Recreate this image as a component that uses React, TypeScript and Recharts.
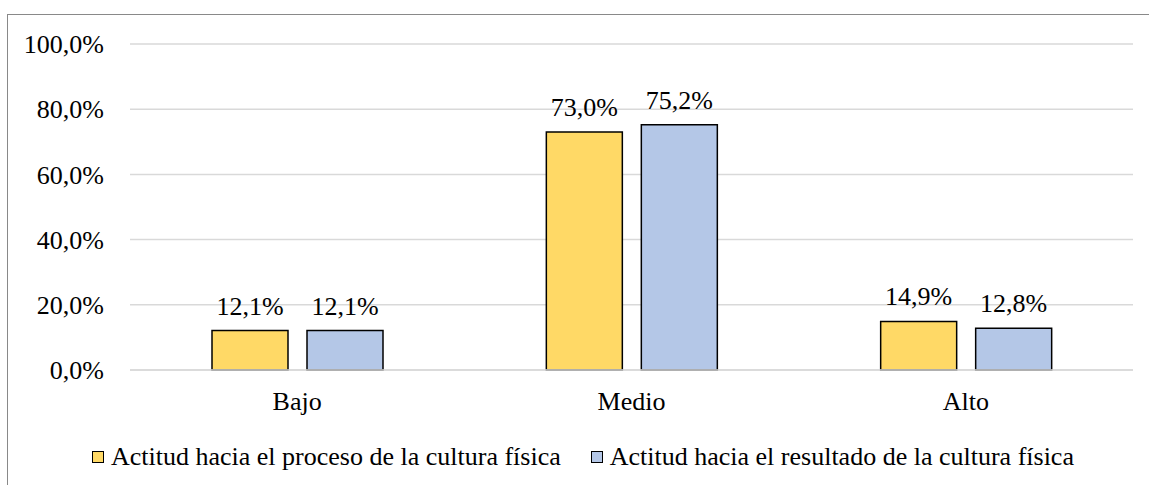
import { BarChart, Bar, XAxis, YAxis, CartesianGrid, Legend, LabelList } from "recharts";

const categories = ["Bajo", "Medio", "Alto"];
const procesoValues = [12.1, 73.0, 14.9];
const resultadoValues = [12.1, 75.2, 12.8];
const yTicks = [0, 20, 40, 60, 80, 100];

const seriesNames = {
    proceso: "Actitud hacia el proceso de la cultura física",
    resultado: "Actitud hacia el resultado de la cultura física",
};

const colors = {
    proceso: "#FFD966",
    resultado: "#B4C7E7",
};

// serif faces are not available here, the browser falls back anyway
const FONT = "Liberation Serif, Tinos, DejaVu Serif, serif";
const FS = 26;

const chartData = categories.map((name, i) => ({
    name,
    proceso: procesoValues[i],
    resultado: resultadoValues[i],
}));

const pct = (v: any) => `${Number(v).toFixed(1).replace(".", ",")}%`;

function LegendContent() {
    const items = [
        { key: "proceso", label: seriesNames.proceso, color: colors.proceso },
        { key: "resultado", label: seriesNames.resultado, color: colors.resultado },
    ];
    return (
        <div style={{ display: "flex", alignItems: "center", fontFamily: FONT, fontSize: FS, lineHeight: "26px", color: "#000" }}>
            {items.map((it, idx) => (
                <div key={it.key} style={{ display: "flex", alignItems: "center", marginLeft: idx === 0 ? 0 : 30 }}>
                    <span
                        style={{
                            display: "inline-block",
                            width: 10,
                            height: 10,
                            background: it.color,
                            border: "1.5px solid #000",
                            marginRight: 7,
                        }}
                    />
                    <span style={{ whiteSpace: "nowrap" }}>{it.label}</span>
                </div>
            ))}
        </div>
    );
}

export default function App() {
    return (
        <div style={{ position: "absolute", left: 0, top: 0, width: 1149, height: 485, overflow: "hidden", background: "#fff", fontFamily: FONT }}>
            <div
                style={{
                    position: "absolute",
                    left: 7,
                    top: 14,
                    width: 1300,
                    height: 600,
                    borderTop: "1.5px solid #898989",
                    borderLeft: "1.5px solid #898989",
                }}
            />
            <div style={{ position: "absolute", left: 0, top: 0 }}>
                <BarChart
                    width={1149}
                    height={485}
                    data={chartData}
                    margin={{ top: 44, right: 16, left: 0, bottom: 55 }}
                    barSize={76}
                    barGap={19}
                    style={{ fontFamily: FONT }}
                >
                    <CartesianGrid vertical={false} stroke="#d9d9d9" strokeWidth={1.5} />
                    <XAxis
                        dataKey="name"
                        height={60}
                        tickLine={false}
                        tickSize={0}
                        tickMargin={22}
                        axisLine={{ stroke: "#d9d9d9", strokeWidth: 1.5 }}
                        tick={{ fontSize: FS, fill: "#000", fontFamily: FONT }}
                    />
                    <YAxis
                        width={130}
                        domain={[0, 100]}
                        ticks={yTicks}
                        axisLine={false}
                        tickLine={false}
                        tickSize={0}
                        tickMargin={26}
                        tickFormatter={pct}
                        tick={{ fontSize: FS, fill: "#000", fontFamily: FONT }}
                    />
                    <Legend
                        layout="horizontal"
                        verticalAlign="middle"
                        align="center"
                        wrapperStyle={{ top: 444, left: 92, width: 1100 }}
                        content={<LegendContent />}
                    />
                    <Bar dataKey="proceso" name={seriesNames.proceso} fill={colors.proceso} stroke="#000" strokeWidth={1.5} isAnimationActive={false}>
                        <LabelList dataKey="proceso" position="top" offset={16} formatter={pct} fontFamily={FONT} fontSize={FS} fill="#000" />
                    </Bar>
                    <Bar dataKey="resultado" name={seriesNames.resultado} fill={colors.resultado} stroke="#000" strokeWidth={1.5} isAnimationActive={false}>
                        <LabelList dataKey="resultado" position="top" offset={16} formatter={pct} fontFamily={FONT} fontSize={FS} fill="#000" />
                    </Bar>
                </BarChart>
            </div>
        </div>
    );
}
